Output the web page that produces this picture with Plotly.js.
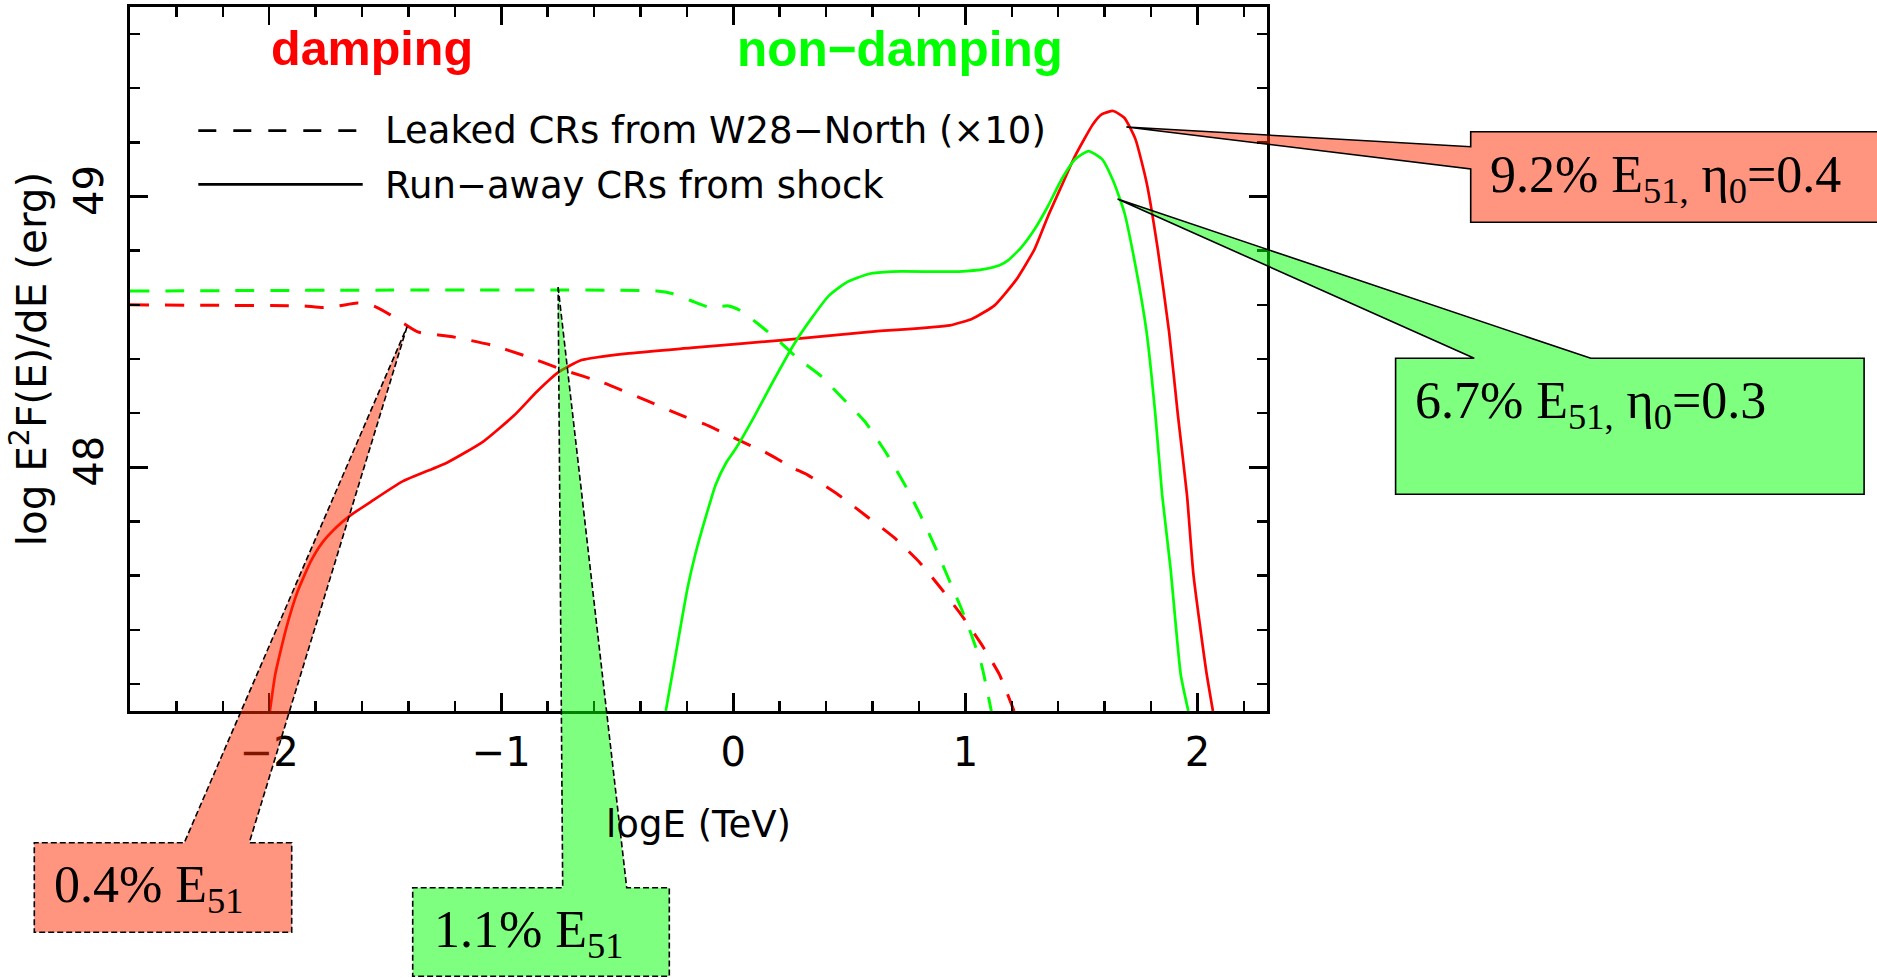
<!DOCTYPE html>
<html>
<head>
<meta charset="utf-8">
<script src="https://cdn.plot.ly/plotly-3.0.1.min.js"></script>
<style>html,body{margin:0;padding:0;background:#fff;}#chart{width:1877px;height:978px;}</style>
</head>
<body>
<div id="chart"></div>
<script>
// ---------------- data ----------------
// Leaked CRs from W28-North (x10), damping (red dashed)
const redLeakX = [-2.6, -2.2, -1.92, -1.85, -1.77, -1.70, -1.62, -1.55, -1.48, -1.42, -1.36, -1.21, -1.04, -0.905, -0.73, -0.56, -0.37, -0.21, -0.126, 0.067, 0.133, 0.259, 0.32, 0.452, 0.584, 0.695, 0.805, 0.893, 0.981, 1.069, 1.146, 1.21];
const redLeakY = [48.600, 48.598, 48.597, 48.596, 48.590, 48.596, 48.607, 48.596, 48.564, 48.531, 48.500, 48.482, 48.451, 48.414, 48.359, 48.312, 48.245, 48.187, 48.160, 48.083, 48.058, 47.997, 47.972, 47.899, 47.813, 47.739, 47.647, 47.555, 47.457, 47.347, 47.236, 47.100];
// Leaked CRs from W28-North (x10), non-damping (green dashed)
const greenLeakX = [-2.6, -0.33, -0.26, -0.184, -0.108, -0.02, 0.028, 0.105, 0.201, 0.278, 0.374, 0.471, 0.567, 0.664, 0.739, 0.805, 0.871, 0.926, 0.981, 1.025, 1.069, 1.112];
const greenLeakY = [48.651, 48.651, 48.641, 48.616, 48.592, 48.596, 48.580, 48.531, 48.463, 48.402, 48.340, 48.255, 48.169, 48.046, 47.936, 47.826, 47.703, 47.592, 47.482, 47.384, 47.273, 47.100];
// Run-away CRs from shock, damping (red solid)
const redRunX = [-1.997, -1.974, -1.926, -1.877, -1.820, -1.772, -1.714, -1.656, -1.560, -1.425, -1.232, -1.078, -0.943, -0.847, -0.750, -0.654, -0.461, -0.184, 0.201, 0.587, 0.933, 1.030, 1.126, 1.222, 1.299, 1.357, 1.415, 1.473, 1.550, 1.589, 1.637, 1.685, 1.733, 1.781, 1.829, 1.878, 1.916, 1.955, 1.983, 2.038, 2.067];
const redRunY = [47.100, 47.236, 47.408, 47.543, 47.654, 47.721, 47.776, 47.819, 47.874, 47.948, 48.018, 48.095, 48.193, 48.279, 48.353, 48.396, 48.420, 48.441, 48.469, 48.500, 48.524, 48.549, 48.598, 48.696, 48.807, 48.929, 49.040, 49.150, 49.267, 49.304, 49.316, 49.291, 49.212, 49.052, 48.807, 48.500, 48.193, 47.899, 47.604, 47.248, 47.100];
// Run-away CRs from shock, non-damping (green solid)
const greenRunX = [-0.291, -0.263, -0.197, -0.164, -0.120, -0.076, -0.032, 0.012, 0.086, 0.163, 0.259, 0.336, 0.413, 0.490, 0.587, 0.683, 0.972, 1.088, 1.145, 1.184, 1.242, 1.299, 1.357, 1.415, 1.473, 1.531, 1.589, 1.637, 1.685, 1.733, 1.781, 1.819, 1.848, 1.884, 1.928, 1.961];
const greenRunY = [47.100, 47.236, 47.555, 47.678, 47.813, 47.936, 48.015, 48.071, 48.181, 48.304, 48.451, 48.549, 48.635, 48.684, 48.715, 48.723, 48.723, 48.733, 48.745, 48.764, 48.813, 48.880, 48.966, 49.064, 49.138, 49.168, 49.138, 49.058, 48.942, 48.745, 48.500, 48.193, 47.899, 47.629, 47.236, 47.100];

// callout labels and the data points they point at
const calloutTexts = ["9.2% E<sub>51,</sub> η<sub>0</sub>=0.4", "6.7% E<sub>51,</sub> η<sub>0</sub>=0.3", "0.4% E<sub>51</sub>", "1.1% E<sub>51</sub>"];
const calloutTipX = [1.694, 1.656, -1.406, -0.755];
const calloutTipY = [49.257, 48.991, 48.519, 48.666];

const legendLabels = ["Leaked CRs from W28−North (×10)", "Run−away CRs from shock"];
const groupLabels = ["damping", "non−damping"];
const xTickVals = [-2, -1, 0, 1, 2];
const yTickVals = [48, 49];

// ---------------- layout helpers ----------------
const L = 130, T = 7, W = 1137, H = 704;
const XR = [-2.6, 2.3], YR = [47.1, 49.7];
const px = x => (x - L) / W;           // pixel -> paper
const py = y => (T + H - y) / H;
const dx = x => (x - XR[0]) / (XR[1] - XR[0]);  // data -> paper
const dy = y => (y - YR[0]) / (YR[1] - YR[0]);

const RED = '#ff0000', GREEN = '#00ff00';
const DASH = '19px,16px';
const traces = [
  {x: redLeakX, y: redLeakY, mode: 'lines', line: {color: RED, width: 3, dash: DASH, shape: 'spline', smoothing: 0.5}, name: 'damping leaked'},
  {x: greenLeakX, y: greenLeakY, mode: 'lines', line: {color: GREEN, width: 3, dash: DASH, shape: 'spline', smoothing: 0.5}, name: 'non-damping leaked'},
  {x: redRunX, y: redRunY, mode: 'lines', line: {color: RED, width: 2.7, shape: 'spline', smoothing: 0.5}, name: 'damping run-away'},
  {x: greenRunX, y: greenRunY, mode: 'lines', line: {color: GREEN, width: 2.7, shape: 'spline', smoothing: 0.5}, name: 'non-damping run-away'}
];

function pathFrom(points) {
  return 'M ' + points.map(p => p[0].toFixed(5) + ',' + p[1].toFixed(5)).join(' L ') + ' Z';
}
const tip = i => [dx(calloutTipX[i]), dy(calloutTipY[i])];
const P = (x, y) => [px(x), py(y)];

const SALMON = 'rgba(255,42,0,0.5)';
const LGREEN = 'rgba(0,255,0,0.5)';
const shapes = [
  {type: 'path', xref: 'paper', yref: 'paper', layer: 'above', fillcolor: SALMON, line: {color: 'black', width: 1.6},
   path: pathFrom([tip(0), P(1470.7, 146.7), P(1470.7, 131.7), P(1895, 131.7), P(1895, 222.3), P(1470.7, 222.3), P(1470.7, 169)])},
  {type: 'path', xref: 'paper', yref: 'paper', layer: 'above', fillcolor: LGREEN, line: {color: 'black', width: 1.6},
   path: pathFrom([tip(1), P(1590.8, 358.3), P(1864.1, 358.3), P(1864.1, 494.3), P(1395.6, 494.3), P(1395.6, 358.3), P(1474.2, 358.3)])},
  {type: 'path', xref: 'paper', yref: 'paper', layer: 'above', fillcolor: SALMON, line: {color: 'black', width: 1.6, dash: '6px,3px'},
   path: pathFrom([tip(2), P(249.3, 842.7), P(291.7, 842.7), P(291.7, 932.3), P(34.3, 932.3), P(34.3, 842.7), P(184.3, 842.7)])},
  {type: 'path', xref: 'paper', yref: 'paper', layer: 'above', fillcolor: LGREEN, line: {color: 'black', width: 1.6, dash: '6px,3px'},
   path: pathFrom([tip(3), P(626.7, 887.7), P(669.3, 887.7), P(669.3, 976.3), P(412.7, 976.3), P(412.7, 887.7), P(562.7, 887.7)])},
  // legend samples
  {type: 'line', xref: 'paper', yref: 'paper', x0: px(198.3), x1: px(357), y0: py(130.7), y1: py(130.7), line: {color: 'black', width: 2.7, dash: '18px,17px'}},
  {type: 'line', xref: 'paper', yref: 'paper', x0: px(198.3), x1: px(362.7), y0: py(184.3), y1: py(184.3), line: {color: 'black', width: 2.7}}
];

const SERIF = 'Liberation Serif, Times New Roman, serif';
const SANS = 'DejaVu Sans, sans-serif';
const ann = (text, x, y, xa, ya, font) => ({text, x: px(x), y: py(y), xref: 'paper', yref: 'paper', xanchor: xa, yanchor: ya, showarrow: false, font});
const annotations = [
  ann(groupLabels[0], 371.5, 19, 'center', 'top', {family: 'Liberation Sans, Arial, sans-serif', size: 48.5, color: RED, weight: 'bold'}),
  ann(groupLabels[1], 900, 19, 'center', 'top', {family: 'Liberation Sans, Arial, sans-serif', size: 49.5, color: GREEN, weight: 'bold'}),
  ann(legendLabels[0], 383, 107, 'left', 'top', {family: SANS, size: 37, color: 'black'}),
  ann(legendLabels[1], 383, 162, 'left', 'top', {family: SANS, size: 37, color: 'black'}),
  ann(calloutTexts[0], 1488, 143.5, 'left', 'top', {family: SERIF, size: 52, color: 'black'}),
  ann(calloutTexts[1], 1412.5, 370, 'left', 'top', {family: SERIF, size: 52, color: 'black'}),
  ann(calloutTexts[2], 51.5, 853.5, 'left', 'top', {family: SERIF, size: 52, color: 'black'}),
  ann(calloutTexts[3], 432, 899, 'left', 'top', {family: SERIF, size: 52, color: 'black'})
];

const axisCommon = {
  showgrid: false, zeroline: false, showline: true, linecolor: 'black', linewidth: 3,
  mirror: 'allticks', ticks: 'inside', ticklen: 18, tickwidth: 2.5, tickcolor: 'black',
  tickfont: {family: SANS, size: 40, color: 'black'},
  minor: {ticks: 'inside', ticklen: 10, tickwidth: 2.5, tickcolor: 'black', dtick: 0.2, showgrid: false}
};

const layout = {
  width: 1877, height: 978,
  margin: {l: L, r: 1877 - L - W, t: T, b: 978 - T - H, pad: 0},
  paper_bgcolor: 'white', plot_bgcolor: 'white', showlegend: false,
  xaxis: Object.assign({}, axisCommon, {range: XR, tickvals: xTickVals, ticklabelstandoff: 4,
    title: {text: 'logE (TeV)', font: {family: SANS, size: 37, color: 'black'}, standoff: 38}}),
  yaxis: Object.assign({}, axisCommon, {range: YR, tickvals: yTickVals, tickangle: -90, ticklabelstandoff: 8,
    title: {text: 'log E<sup>2</sup>F(E)/dE (erg)', font: {family: SANS, size: 40.5, color: 'black'}, standoff: 7}}),
  shapes, annotations
};

Plotly.newPlot('chart', traces, layout, {displayModeBar: false, staticPlot: true});
</script>
</body>
</html>
